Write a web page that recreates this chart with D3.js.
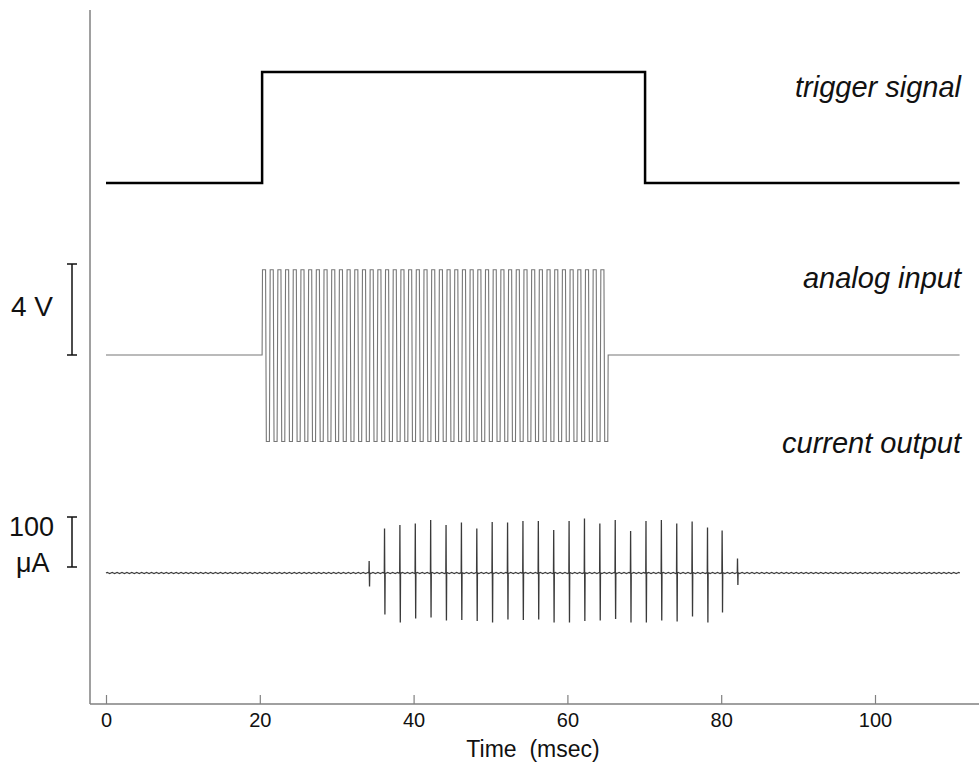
<!DOCTYPE html>
<html>
<head>
<meta charset="utf-8">
<script src="https://cdn.jsdelivr.net/npm/d3@7"></script>
<style>
  body { margin: 0; background: #fff; }
  text { font-family: "Liberation Sans", Arial, sans-serif; }
</style>
</head>
<body>
<div id="svganchor"></div>
<script>
let width = 979;
let height = 763;

// time axis
let tickValues = [0, 20, 40, 60, 80, 100];
let timeEnd = 111;

// trigger signal: [ms, level]
let triggerTimes = [0, 20.3, 20.3, 70.1, 70.1, 111];
let triggerLevels = [0, 0, 1, 1, 0, 0];

// analog input: 1 kHz square burst (V)
let analogStart = 20.3;
let analogCycles = 45;
let analogPeriod = 1.0;
let analogHigh = 3.75;
let analogLow = -3.8;

// current output spikes: time (ms), positive peak, negative peak (uA)
let spikeTimes = [34.2, 36.2, 38.2, 40.2, 42.2, 44.2, 46.2, 48.2, 50.2, 52.2, 54.2, 56.2, 58.2,
  60.2, 62.2, 64.2, 66.2, 68.2, 70.2, 72.2, 74.2, 76.2, 78.2, 80.1, 82.1];
let spikeUp = [24, 89, 96, 99, 106, 96, 101, 89, 102, 101, 104, 104, 86,
  104, 109, 99, 106, 84, 104, 106, 99, 103, 91, 85, 29];
let spikeDown = [-27, -83, -99, -91, -89, -95, -94, -96, -99, -93, -94, -93, -99,
  -99, -96, -95, -92, -99, -99, -95, -97, -87, -99, -79, -24];
// small baseline ripple pattern on the current trace (uA), repeated every step
let ripplePattern = [0, 1.1, 0, -1.1];
let rippleStep = 0.16;

let svg = d3.select("#svganchor").append("svg").attr("width", width).attr("height", height);

let xScale = d3.scaleLinear().domain([0, timeEnd]).range([106, 106 + timeEnd * 7.69]);
let yTrigger = d3.scaleLinear().domain([0, 1]).range([183, 72]);
let yAnalog = d3.scaleLinear().domain([0, 4]).range([355, 264]);
let yCurrent = d3.scaleLinear().domain([0, 100]).range([573, 523]);

// axes frame
svg.append("line")
  .attr("x1", 90).attr("y1", 10).attr("x2", 90).attr("y2", 704)
  .attr("stroke", "#808080").attr("stroke-width", 1.5);
svg.append("line")
  .attr("x1", 90).attr("y1", 704).attr("x2", 979).attr("y2", 704)
  .attr("stroke", "#808080").attr("stroke-width", 1.5);

let xAxis = d3.axisBottom(xScale).tickValues(tickValues).tickSize(-9).tickSizeOuter(0).tickPadding(9);
let gx = svg.append("g").attr("transform", "translate(0,704)").call(xAxis);
gx.select(".domain").remove();
gx.selectAll(".tick line").attr("stroke", "#808080").attr("stroke-width", 1.2);
gx.selectAll(".tick text")
  .attr("font-size", 20).attr("fill", "#111")
  .attr("font-family", "Liberation Sans, Arial, sans-serif");

svg.append("text")
  .attr("x", 533).attr("y", 757)
  .attr("text-anchor", "middle")
  .attr("font-size", 23)
  .attr("fill", "#111")
  .attr("xml:space", "preserve")
  .text("Time  (msec)");

let line = d3.line().x(d => xScale(d[0])).y(d => d[1]);

// trigger
let triggerData = triggerTimes.map((t, i) => [t, yTrigger(triggerLevels[i])]);
svg.append("path")
  .attr("d", line(triggerData))
  .attr("fill", "none").attr("stroke", "#000").attr("stroke-width", 2.5);

// analog input
let analogData = [[0, yAnalog(0)], [analogStart, yAnalog(0)]];
for (let c = 0; c < analogCycles; c++) {
  let t0 = analogStart + c * analogPeriod;
  let h = analogPeriod / 2;
  analogData.push([t0 + 0.05, yAnalog(analogHigh)]);
  analogData.push([t0 + h - 0.05, yAnalog(analogHigh)]);
  analogData.push([t0 + h + 0.05, yAnalog(analogLow)]);
  analogData.push([t0 + analogPeriod - 0.05, yAnalog(analogLow)]);
}
let analogEnd = analogStart + analogCycles * analogPeriod;
analogData.push([analogEnd, yAnalog(0)]);
analogData.push([timeEnd, yAnalog(0)]);
svg.append("path")
  .attr("d", line(analogData))
  .attr("fill", "none").attr("stroke", "#777").attr("stroke-width", 1.1);

// current output
let currentData = [];
let si = 0;
let steps = Math.round(timeEnd / rippleStep);
for (let k = 0; k <= steps; k++) {
  let t = k * rippleStep;
  while (si < spikeTimes.length && spikeTimes[si] <= t) {
    let st = spikeTimes[si];
    currentData.push([st - 0.01, yCurrent(0)]);
    currentData.push([st + 0.02, yCurrent(spikeUp[si])]);
    currentData.push([st + 0.07, yCurrent(spikeDown[si])]);
    currentData.push([st + 0.1, yCurrent(0)]);
    si++;
  }
  currentData.push([t, yCurrent(ripplePattern[k % ripplePattern.length])]);
}
currentData.sort((a, b) => a[0] - b[0]);
svg.append("path")
  .attr("d", line(currentData))
  .attr("fill", "none").attr("stroke", "#3a3a3a").attr("stroke-width", 1.3);

// trace labels
let labels = [
  { text: "trigger signal", y: 97 },
  { text: "analog input", y: 288 },
  { text: "current output", y: 453 }
];
svg.selectAll(".trace-label")
  .data(labels)
  .enter()
  .append("text")
  .attr("class", "trace-label")
  .attr("x", 961)
  .attr("y", d => d.y)
  .attr("text-anchor", "end")
  .attr("font-size", 29)
  .attr("font-style", "italic")
  .attr("fill", "#111")
  .text(d => d.text);

// scale bars
function scaleBar(x, y1, y2) {
  let g = svg.append("g").attr("stroke", "#111").attr("stroke-width", 1.5);
  g.append("line").attr("x1", x).attr("x2", x).attr("y1", y1).attr("y2", y2);
  g.append("line").attr("x1", x - 5).attr("x2", x + 5).attr("y1", y1).attr("y2", y1);
  g.append("line").attr("x1", x - 5).attr("x2", x + 5).attr("y1", y2).attr("y2", y2);
}
scaleBar(72, yAnalog(4), yAnalog(0));
scaleBar(72, yCurrent(112), yCurrent(12));

svg.append("text").attr("x", 11).attr("y", 316).attr("font-size", 28).attr("fill", "#111").text("4 V");
svg.append("text").attr("x", 9).attr("y", 536).attr("font-size", 27).attr("fill", "#111").text("100");
svg.append("text").attr("x", 16).attr("y", 572).attr("font-size", 27).attr("fill", "#111").text("μA");
</script>
</body>
</html>
